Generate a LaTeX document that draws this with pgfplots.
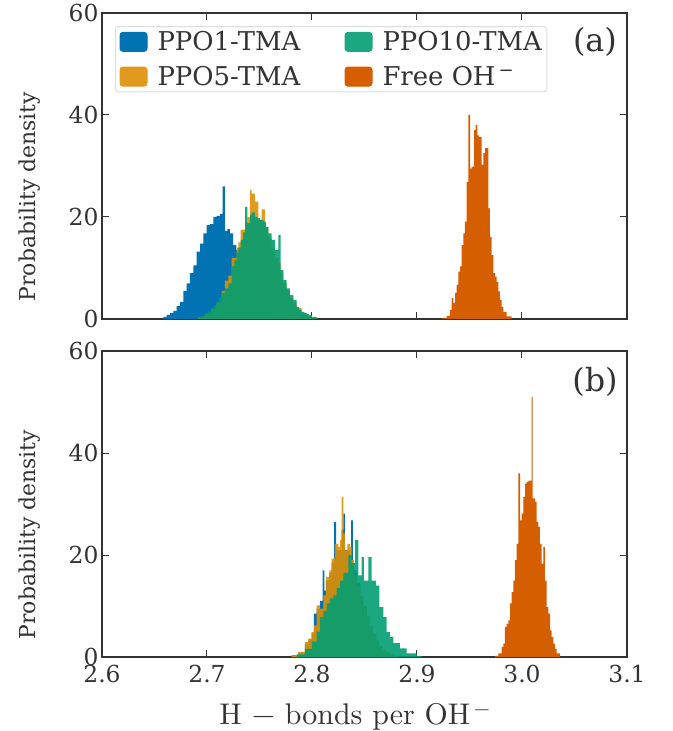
\documentclass[border=0pt]{standalone}
\usepackage{fontspec}
\setmainfont{DejaVu Serif}
\newfontfamily\lmfont{lmroman10-regular.otf}
\usepackage{pgfplots}
\pgfplotsset{compat=1.18}
\definecolor{cbblue}{HTML}{0173B2}
\definecolor{cborange}{HTML}{DE8F05}
\definecolor{cbgreen}{HTML}{029E73}
\definecolor{cbred}{HTML}{D55E00}
\definecolor{txt}{HTML}{333333}
\definecolor{axc}{HTML}{333333}
\definecolor{legbd}{HTML}{DDDDDD}

\pgfplotsset{
  myaxis/.style={
    width=525bp, height=306bp, scale only axis,
    xmin=2.6, xmax=3.1, ymin=0, ymax=60,
    xtick={2.6,2.7,2.8,2.9,3.0,3.1}, ytick={0,20,40,60},
    tick align=inside, major tick length=7bp,
    axis line style={axc, line width=1.2bp},
    every tick/.style={axc, line width=1bp},
    tick label style={font=\fontsize{23.5}{27}\selectfont, text=txt, /pgf/number format/assume math mode=true},
    x tick label style={yshift=-5bp, /pgf/number format/.cd, fixed, fixed zerofill, precision=1},
    ylabel={Probability density},
    ylabel style={font=\fontsize{22}{26}\selectfont, text=txt, at={(axis description cs:-0.137,0.40)}, anchor=center},
    clip=true,
  },
  hist/.style={const plot, draw=none, fill=#1, fill opacity=0.9, forget plot},
  histsolid/.style={const plot, draw=none, fill=#1, forget plot},
}

\begin{document}
\begin{tikzpicture}
\path[use as bounding box] (-102bp,13bp) rectangle (571bp,-718bp);
% ---------------- panel (a)
\begin{axis}[myaxis, at={(0,0)}, anchor=north west, xticklabels={},
  legend columns=2,
  legend style={at={(axis description cs:0.0248,0.9575)}, anchor=north west,
    draw=legbd, line width=1bp, rounded corners=3bp, fill=white,
    font=\fontsize{26}{29}\selectfont, text=txt,
    inner xsep=4bp, inner ysep=4bp, row sep=12bp,
    nodes={inner sep=1bp}},
  legend cell align=left]
\addlegendimage{legend image code/.code={\fill[cbblue] (0bp,-9.5bp) rectangle (27bp,9.5bp); \path (36bp,0bp);}}
\addlegendentry{\makebox[186bp][l]{PPO1-TMA}}
\addlegendimage{legend image code/.code={\fill[cbgreen!90!white] (0bp,-9.5bp) rectangle (27bp,9.5bp); \path (36bp,0bp);}}
\addlegendentry{PPO10-TMA}
\addlegendimage{legend image code/.code={\fill[cborange!90!white] (0bp,-9.5bp) rectangle (27bp,9.5bp); \path (36bp,0bp);}}
\addlegendentry{\makebox[186bp][l]{PPO5-TMA}}
\addlegendimage{legend image code/.code={\fill[cbred] (0bp,-9.5bp) rectangle (27bp,9.5bp); \path (36bp,0bp);}}
\addlegendentry{Free OH\textsuperscript{\,−}}

\addplot[histsolid=cbblue] coordinates {
(2.6584,0.4) (2.6616,0.8) (2.6648,1.2) (2.6680,1.6) (2.6711,2.5) (2.6743,3.3)
(2.6774,5.5) (2.6806,7.0) (2.6838,9.0) (2.6870,10.5) (2.6902,13.2) (2.6934,14.8)
(2.6965,16.8) (2.6997,18.4) (2.7029,18.6) (2.7060,20.0) (2.7092,20.2) (2.7124,20.6)
(2.7149,26.0) (2.7171,17.3) (2.7195,17.6) (2.7219,16.8) (2.7250,14.5) (2.7280,13.5)
(2.7310,11.5) (2.7340,10.0) (2.7370,8.5) (2.7400,7.2) (2.7430,6.0) (2.7460,5.0)
(2.7490,4.0) (2.7520,3.2) (2.7550,2.5) (2.7580,1.9) (2.7610,1.4) (2.7640,1.0)
(2.7670,0.6) (2.7700,0.4) (2.7730,0.2) (2.7760,0)} \closedcycle;

\addplot[hist=cborange] coordinates {
(2.6917,0.3) (2.6980,1.0) (2.7040,2.0) (2.7092,3.2) (2.7140,5.5) (2.7170,7.5)
(2.7203,8.5) (2.7235,12.0) (2.7283,14.0) (2.7300,15.0) (2.7321,17.5) (2.7362,19.0)
(2.7384,20.0) (2.7410,25.3) (2.7425,24.6) (2.7457,23.0) (2.7490,19.5) (2.7520,21.5)
(2.7552,18.0) (2.7584,15.9) (2.7616,14.0) (2.7648,12.0) (2.7679,11.0) (2.7702,9.0)
(2.7727,7.0) (2.7759,5.5) (2.7790,4.2) (2.7822,3.2) (2.7854,2.2) (2.7902,1.2)
(2.7949,0.7) (2.7997,0.3) (2.8045,0)} \closedcycle;

\addplot[hist=cbgreen] coordinates {
(2.6917,0.3) (2.6950,0.6) (2.6980,1.0) (2.7010,1.4) (2.7040,2.0) (2.7065,2.6)
(2.7092,3.4) (2.7115,4.2) (2.7140,5.1) (2.7170,6.0) (2.7203,7.0) (2.7235,10.3)
(2.7260,11.5) (2.7283,13.0) (2.7300,14.0) (2.7321,15.5) (2.7345,17.0) (2.7362,22.0)
(2.7384,18.8) (2.7410,20.4) (2.7425,20.9) (2.7457,20.0) (2.7480,19.8) (2.7505,19.4)
(2.7536,19.1) (2.7560,18.0) (2.7584,16.8) (2.7616,15.5) (2.7648,13.5) (2.7679,16.5)
(2.7702,9.6) (2.7727,7.6) (2.7759,6.0) (2.7790,4.7) (2.7822,3.7) (2.7854,2.4)
(2.7878,1.8) (2.7902,1.4) (2.7925,1.2) (2.7949,1.0) (2.7973,0.7) (2.7997,0.4)
(2.8045,0)} \closedcycle;

\addplot[histsolid=cbred] coordinates {
(2.9235,0.1) (2.9283,0.6) (2.9314,1.8) (2.9330,4.1) (2.9346,3.1) (2.9362,5.1)
(2.9378,6.7) (2.9394,9.3) (2.9410,10.3) (2.9425,14.5) (2.9441,16.8) (2.9457,19.1)
(2.9473,26.9) (2.9489,40.0) (2.9505,29.5) (2.9521,29.9) (2.9543,37.1) (2.9559,38.0)
(2.9575,36.0) (2.9590,35.7) (2.9616,30.2) (2.9632,32.5) (2.9648,33.5) (2.9663,33.5)
(2.9679,21.7) (2.9695,16.1) (2.9711,12.5) (2.9727,9.0) (2.9743,8.3) (2.9759,7.3)
(2.9775,5.4) (2.9790,3.7) (2.9806,2.4) (2.9822,1.4) (2.9854,0.5) (2.9902,0)} \closedcycle;

\node[font=\fontsize{32}{36}\selectfont, text=txt] at (axis description cs:0.939,0.905) {(a)};
\end{axis}

% ---------------- panel (b)
\begin{axis}[myaxis, at={(0,-338bp)}, anchor=north west,
  xlabel={\lmfont H − bonds per OH\textsuperscript{\,−}},
  xlabel style={font=\fontsize{30}{34}\selectfont, text=txt, at={(axis description cs:0.482,-0.195)}, anchor=center}]
\addplot[histsolid=cbblue] coordinates {
(2.7806,0.3) (2.7870,0.9) (2.7933,2.5) (2.7965,3.4) (2.7997,4.8) (2.8019,8.5)
(2.8045,9.5) (2.8076,11.0) (2.8101,17.0) (2.8117,13.0) (2.8133,15.0) (2.8165,16.5)
(2.8187,18.5) (2.8210,26.5) (2.8229,21.0) (2.8251,21.0) (2.8283,25.0) (2.8298,28.1)
(2.8314,21.0) (2.8337,21.0) (2.8362,20.0) (2.8373,26.8) (2.8390,17.0) (2.8430,14.5)
(2.8460,12.0) (2.8490,10.0) (2.8520,8.0) (2.8550,6.0) (2.8580,4.5) (2.8610,3.0)
(2.8640,2.0) (2.8670,1.4) (2.8700,0.9) (2.8740,0.5) (2.8780,0.2) (2.8820,0)} \closedcycle;

\addplot[hist=cborange] coordinates {
(2.7806,0.3) (2.7870,1.0) (2.7933,2.9) (2.7965,3.6) (2.7997,4.9) (2.8019,6.2)
(2.8045,10.1) (2.8076,9.5) (2.8108,12.1) (2.8133,15.7) (2.8165,17.0) (2.8187,19.3)
(2.8219,22.2) (2.8251,21.6) (2.8267,22.9) (2.8283,31.4) (2.8298,24.2) (2.8314,20.9)
(2.8337,22.2) (2.8362,21.6) (2.8378,19.0) (2.8400,16.0) (2.8430,14.0) (2.8460,12.0)
(2.8490,10.0) (2.8520,8.0) (2.8550,6.0) (2.8580,4.5) (2.8610,3.2) (2.8640,2.2)
(2.8670,1.5) (2.8700,1.0) (2.8740,0.5) (2.8780,0.2) (2.8820,0)} \closedcycle;

\addplot[hist=cbgreen] coordinates {
(2.7854,0.5) (2.7933,1.6) (2.8000,3.0) (2.8045,5.0) (2.8076,7.8) (2.8108,9.0)
(2.8140,10.5) (2.8170,11.5) (2.8203,12.1) (2.8235,13.5) (2.8267,15.0) (2.8300,16.5)
(2.8346,20.0) (2.8378,18.4) (2.8410,22.9) (2.8441,16.0) (2.8473,19.6) (2.8495,15.0)
(2.8537,19.6) (2.8568,15.0) (2.8610,14.0) (2.8641,9.8) (2.8679,7.8) (2.8711,4.9)
(2.8743,3.9) (2.8774,2.7) (2.8838,1.7) (2.8902,0.7) (2.8997,0.2) (2.9045,0)} \closedcycle;

\addplot[histsolid=cbred] coordinates {
(2.9743,0.2) (2.9775,0.7) (2.9806,2.0) (2.9822,2.6) (2.9838,5.9) (2.9854,6.5)
(2.9870,7.2) (2.9886,10.5) (2.9902,12.7) (2.9917,15.0) (2.9933,19.0) (2.9949,22.2)
(2.9965,36.0) (2.9981,26.8) (2.9997,28.1) (3.0013,31.4) (3.0029,34.0) (3.0045,34.3)
(3.0060,34.6) (3.0092,51.0) (3.0101,31.1) (3.0124,30.4) (3.0140,26.5) (3.0155,25.5)
(3.0171,22.2) (3.0187,18.3) (3.0203,21.6) (3.0219,15.0) (3.0235,9.8) (3.0251,8.5)
(3.0267,5.2) (3.0283,3.9) (3.0298,2.6) (3.0314,1.6) (3.0330,0.7) (3.0362,0)} \closedcycle;

\node[font=\fontsize{32}{36}\selectfont, text=txt] at (axis description cs:0.939,0.90) {(b)};
\end{axis}
\end{tikzpicture}
\end{document}
